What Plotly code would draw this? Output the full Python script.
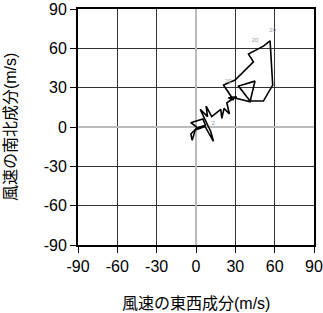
import plotly.graph_objects as go

# Hodograph wind components (m/s)
u = [0.5, -4.0, 5.2, 7.2, 0.6, -3.9, -2.9, -0.6, 7.0, 13.3, 11.3, 3.2, 8.8, 7.7, 12.0,
     15.4, 18.9, 19.7, 21.4, 25.5, 23.5, 27.3, 31.0, 24.7, 28.6, 21.0, 29.8, 43.8, 40.0,
     51.4, 56.5, 58.5, 51.4, 41.2, 32.4, 45.0, 41.2, 26.0]
v = [0.0, 3.3, 6.1, 1.3, -0.8, -5.3, -10.2, -2.3, 0.3, -10.9, -3.6, 13.5, 7.9, 16.0, 7.9,
     10.4, 13.5, 6.6, 14.2, 9.9, 18.5, 21.0, 23.0, 22.3, 20.6, 32.0, 35.8, 49.7, 55.6,
     61.7, 65.7, 32.0, 19.8, 19.8, 31.2, 35.0, 19.3, 23.0]

label_u = [58.5, 45.0, 24.7, 13.3]
label_v = [73.7, 66.2, 34.5, 2.8]
label_text = ["20", "20", "20", "2"]

tick_vals = [-90, -60, -30, 0, 30, 60, 90]
tick_text = ["-90", "-60", "-30", "0", "30", "60", "90"]

x_title = "風速の東西成分(m/s)"
y_title = "風速の南北成分(m/s)"

fig = go.Figure()
fig.add_trace(go.Scatter(x=u, y=v, mode="lines",
                         line=dict(color="black", width=1.6), hoverinfo="skip"))
fig.add_trace(go.Scatter(x=label_u, y=label_v, mode="text", text=label_text,
                         textfont=dict(size=6, color="#999999"), hoverinfo="skip"))

font_fam = "Liberation Sans, Arial, Noto Sans CJK JP"
axis_common = dict(range=[-90, 90], tickvals=tick_vals, ticktext=tick_text,
                   ticks="outside", ticklen=6, tickcolor="black", tickwidth=1,
                   showline=True, linecolor="black", linewidth=2, mirror=True,
                   showgrid=True, gridcolor="#333333", gridwidth=1,
                   zeroline=True, zerolinecolor="#bbbbbb", zerolinewidth=2,
                   tickfont=dict(size=16, color="black", family=font_fam),
                   automargin=False, fixedrange=True)

fig.update_layout(
    width=323, height=313,
    margin=dict(l=78, r=9, t=9, b=68),
    paper_bgcolor="white", plot_bgcolor="white",
    showlegend=False,
    font=dict(family=font_fam, color="black"),
    xaxis=dict(**axis_common),
    yaxis=dict(**axis_common),
    annotations=[
        dict(text=x_title, xref="paper", yref="paper", x=0.5, y=-0.2458,
             xanchor="center", yanchor="middle", showarrow=False,
             font=dict(size=16, family=font_fam, color="black")),
        dict(text=y_title, xref="paper", yref="paper", x=-0.288, y=0.5,
             xanchor="center", yanchor="middle", textangle=-90, showarrow=False,
             font=dict(size=16, family=font_fam, color="black")),
    ],
)

fig.write_html("out.html")
